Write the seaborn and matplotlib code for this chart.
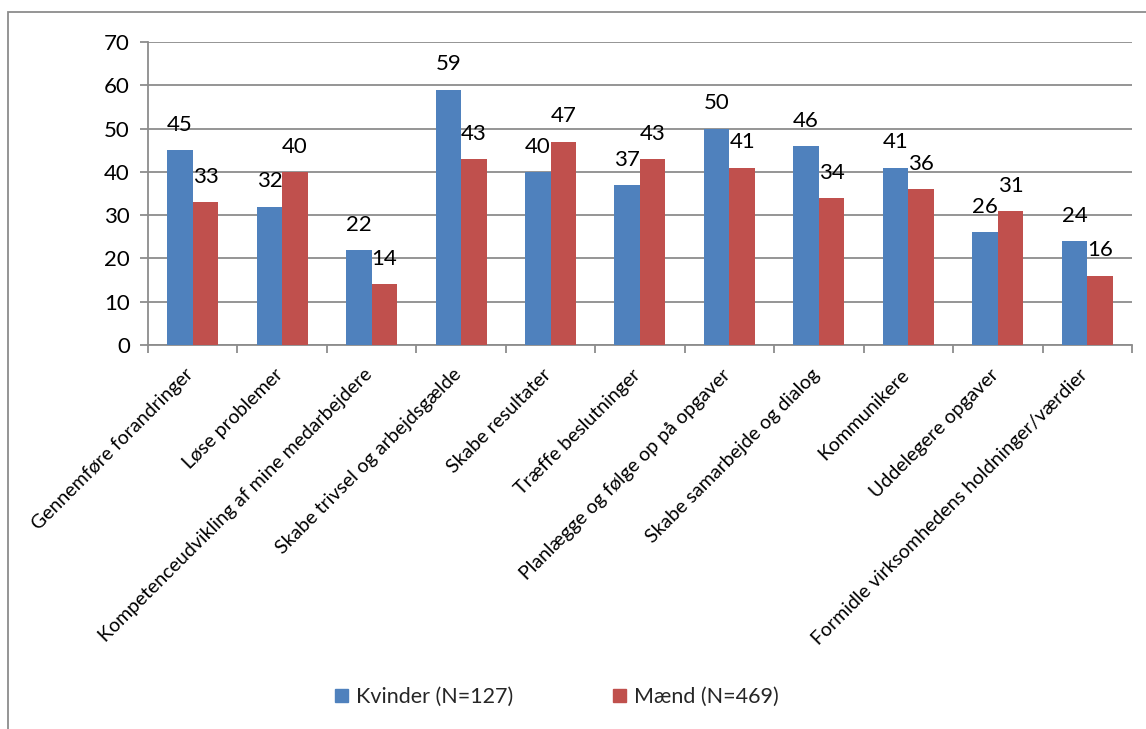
import matplotlib
matplotlib.use("Agg")
import matplotlib.pyplot as plt
import matplotlib.transforms as mtransforms
import seaborn as sns
import pandas as pd
from matplotlib.patches import Rectangle

categories = [
    "Gennemføre forandringer",
    "Løse problemer",
    "Kompetenceudvikling af mine medarbejdere",
    "Skabe trivsel og arbejdsgælde",
    "Skabe resultater",
    "Træffe beslutninger",
    "Planlægge og følge op på opgaver",
    "Skabe samarbejde og dialog",
    "Kommunikere",
    "Uddelegere opgaver",
    "Formidle virksomhedens holdninger/værdier",
]
kvinder = [45, 32, 22, 59, 40, 37, 50, 46, 41, 26, 24]
maend = [33, 40, 14, 43, 47, 43, 41, 34, 36, 31, 16]
series_names = ["Kvinder (N=127)", "Mænd (N=469)"]
y_ticks = [0, 10, 20, 30, 40, 50, 60, 70]

df = pd.DataFrame({
    "kategori": categories * 2,
    "procent": kvinder + maend,
    "gruppe": [series_names[0]] * len(categories) + [series_names[1]] * len(categories),
})

sns.set_theme(style="white")
plt.rcParams["font.family"] = ["Lato", "DejaVu Sans"]

grid_grey = "#8c8c8c"
palette = {series_names[0]: "#4F81BD", series_names[1]: "#C0504D"}

fig = plt.figure(figsize=(11.46, 7.29), dpi=100)
ax = fig.add_axes([0.1291, 0.5267, 0.9878 - 0.1291, 0.9424 - 0.5267])

sns.barplot(data=df, x="kategori", y="procent", hue="gruppe", order=categories,
            hue_order=series_names, palette=palette, width=0.57, gap=0,
            saturation=1, linewidth=0, ax=ax, legend=True, zorder=3)

for container in ax.containers:
    ax.bar_label(container, fmt="%d", padding=11, fontsize=16, color="black")

ax.set_ylim(0, 70)
ax.set_yticks(y_ticks)
ax.set_xlim(-0.5, len(categories) - 0.5)
ax.set_xlabel("")
ax.set_ylabel("")

ax.yaxis.grid(True, color=grid_grey, linewidth=1.3, zorder=0)
ax.set_axisbelow(True)
for side in ("top", "right"):
    ax.spines[side].set_visible(False)
for side in ("left", "bottom"):
    ax.spines[side].set_color(grid_grey)
    ax.spines[side].set_linewidth(1.3)

ax.tick_params(axis="y", which="both", left=True, length=6, width=1.3,
               color=grid_grey, pad=7, labelsize=16, labelcolor="black")
ax.tick_params(axis="x", which="major", bottom=False, labelsize=14,
               labelcolor="black", pad=2)

# category boundary ticks on the x axis
ax.set_xticks([i - 0.5 for i in range(len(categories) + 1)], minor=True)
ax.tick_params(axis="x", which="minor", bottom=True, length=6, width=1.3,
               color=grid_grey)

ax.set_xticks(range(len(categories)))
ax.set_xticklabels(categories, rotation=45, ha="right", rotation_mode="anchor")
shift = mtransforms.ScaledTranslation(-6 / 72, -7 / 72, fig.dpi_scale_trans)
for lbl in ax.get_xticklabels():
    lbl.set_transform(lbl.get_transform() + shift)

ax.get_legend().remove()
handles = [Rectangle((0, 0), 1, 1, color=palette[n]) for n in series_names]
fig.legend(handles, series_names, loc="center", bbox_to_anchor=(0.486, 0.044),
           ncol=2, frameon=False, fontsize=15.5, handlelength=0.6, handleheight=0.6,
           handletextpad=0.4, columnspacing=4.6)

# chart-area frame
fig.patches.append(Rectangle((8 / 1146, -0.1), 1.2, 1 - 12 / 729 + 0.1,
                             transform=fig.transFigure, fill=False,
                             edgecolor=grid_grey, linewidth=1.3))

fig.savefig("out.png", dpi=100)
